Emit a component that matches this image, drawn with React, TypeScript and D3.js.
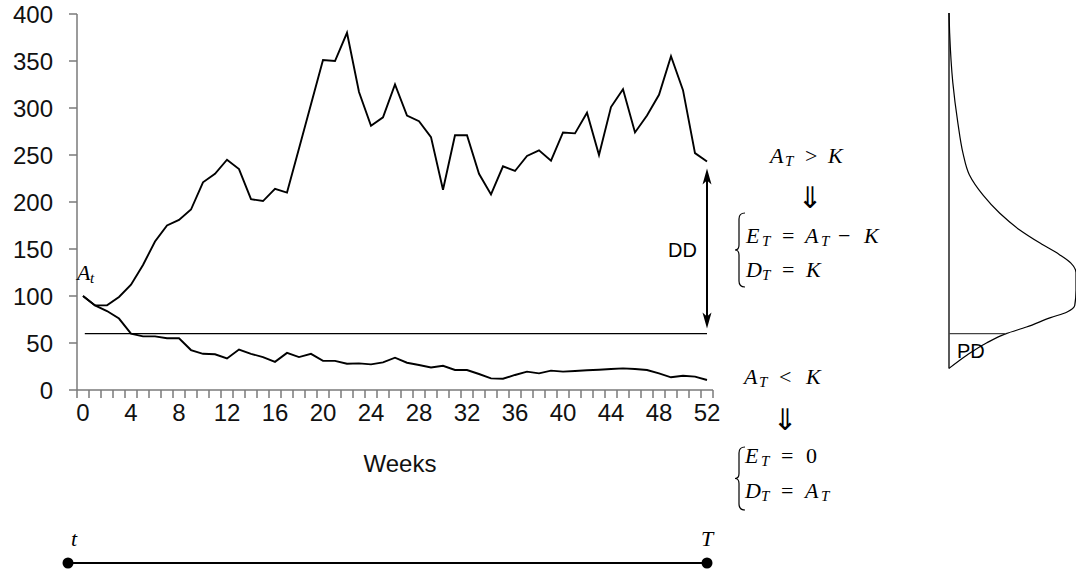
import React from "react";
import * as d3 from "d3";

const W = 1076;
const H = 573;

// asset value paths, one value per week (0..52)
const upperPath = [
  100, 90, 90, 99, 112, 133, 158, 175, 181, 192, 221, 230, 245, 235, 203, 201,
  214, 210, 257, 304, 351, 350, 380, 317, 281, 290, 325, 292, 286, 269, 213,
  271, 271, 230, 208, 238, 233, 249, 255, 244, 274, 273, 295, 250, 301, 320,
  274, 292, 314, 355, 319, 252, 243,
];
const lowerPath = [
  100, 90, 84, 76, 60, 57, 57, 55, 55, 42.5, 38.5, 38, 33.5, 43, 38.5, 35, 30,
  39.5, 35, 38.5, 31, 31, 28, 28.3, 27.3, 29.4, 34.4, 29, 26.6, 24, 25.8, 21.3,
  21.3, 17, 12.4, 12, 16, 19.5, 17.7, 20.6, 19.5, 20.2, 21, 21.6, 22.3, 23,
  22.3, 21.3, 17.7, 13.5, 15.2, 14.2, 10.6,
];
const K = 60;
const xTickLabels = [0, 4, 8, 12, 16, 20, 24, 28, 32, 36, 40, 44, 48, 52];
const yTickLabels = [0, 50, 100, 150, 200, 250, 300, 350, 400];

// terminal distribution: [asset value, relative density]
const densityPts: [number, number][] = [
  [401, 0], [380, 0.005], [327, 0.03], [284, 0.07], [252, 0.11], [229, 0.16],
  [207, 0.27], [188, 0.4], [170, 0.56], [156, 0.72], [144, 0.87], [135, 0.96],
  [125, 1.0], [106, 1.0], [90, 0.99], [83, 0.93], [77, 0.8], [67, 0.61],
  [60, 0.45], [50, 0.295], [37, 0.14], [23, 0],
];

const SANS = "'Liberation Sans', Arial, Helvetica, sans-serif";
const SERIF = "'Liberation Serif', 'Times New Roman', serif";

type Piece = { s: string; x: number; it?: boolean; sub?: boolean };

const MathRow = ({ y, pieces }: { y: number; pieces: Piece[] }) => (
  <g fontFamily={SERIF}>
    {pieces.map((p, i) => (
      <text
        key={i}
        x={p.x}
        y={p.sub ? y + 3 : y}
        fontSize={p.sub ? 15 : 22}
        fontStyle={p.it ? "italic" : "normal"}
      >
        {p.s}
      </text>
    ))}
  </g>
);

const brace = (x: number, top: number, bottom: number) => {
  const mid = (top + bottom) / 2;
  const s = x + 4;
  return `M${x + 10},${top} Q${s},${top} ${s},${top + 6} L${s},${mid - 5} Q${s},${mid} ${x},${mid} Q${s},${mid} ${s},${mid + 5} L${s},${bottom - 6} Q${s},${bottom} ${x + 10},${bottom}`;
};

const arrowHead = (x: number, y: number, dir: 1 | -1) =>
  `M${x},${y} L${x - 4.5},${y + dir * 16} L${x},${y + dir * 12} L${x + 4.5},${y + dir * 16} Z`;

const Implies = ({ x, y }: { x: number; y: number }) => (
  <text
    x={x}
    y={y}
    fontFamily="'DejaVu Sans', sans-serif"
    fontSize={30}
    textAnchor="middle"
    fill="#000"
  >
    ⇓
  </text>
);

export default function App() {
  const x = d3.scaleLinear().domain([0, 52]).range([83, 707]);
  const y = d3.scaleLinear().domain([0, 400]).range([390, 14]);
  const dens = d3.scaleLinear().domain([0, 1]).range([949, 1076]);

  const line = d3
    .line<number>()
    .x((_, i) => x(i))
    .y((d) => y(d));

  const densLine = d3
    .line<[number, number]>()
    .x((d) => dens(d[1]))
    .y((d) => y(d[0]))
    .curve(d3.curveMonotoneY);

  const xEnd = x(52);
  const yTop = y(upperPath[upperPath.length - 1]);
  const yK = y(K);
  const kDens = densityPts.find((d) => d[0] === K)![1];

  return (
    <svg
      width={W}
      height={H}
      style={{ position: "absolute", left: 0, top: 0, background: "#fff" }}
    >
      {/* axes */}
      <g stroke="#7a7a7a" strokeWidth={1.5} fill="none">
        <line x1={x(-0.5)} x2={x(-0.5)} y1={y(400)} y2={y(0)} />
        <line x1={x(-0.5)} x2={x(52.5)} y1={y(0)} y2={y(0)} />
        {yTickLabels.map((v) => (
          <line key={v} x1={x(-0.5) - 8} x2={x(-0.5)} y1={y(v)} y2={y(v)} />
        ))}
        {d3.range(0, 54).map((k) => (
          <line key={k} x1={x(k - 0.5)} x2={x(k - 0.5)} y1={y(0)} y2={y(0) + 8} />
        ))}
      </g>
      <g fontFamily={SANS} fontSize={24} fill="#111">
        {yTickLabels.map((v) => (
          <text key={v} x={53} y={y(v)} dy="0.36em" textAnchor="end">
            {v}
          </text>
        ))}
        {xTickLabels.map((w) => (
          <text key={w} x={x(w)} y={421} textAnchor="middle">
            {w}
          </text>
        ))}
        <text x={400} y={472} textAnchor="middle">
          Weeks
        </text>
      </g>

      {/* paths */}
      <g fill="none" stroke="#000" strokeWidth={1.9} strokeLinejoin="miter">
        <path d={line(upperPath)!} />
        <path d={line(lowerPath)!} />
      </g>
      <line x1={x(0.15)} x2={xEnd} y1={yK} y2={yK} stroke="#000" strokeWidth={1.3} />

      {/* DD arrow */}
      <line x1={xEnd} x2={xEnd} y1={yTop + 12} y2={yK - 10} stroke="#000" strokeWidth={2} />
      <path d={arrowHead(xEnd, yTop + 7, 1)} fill="#000" />
      <path d={arrowHead(xEnd, yK - 5, -1)} fill="#000" />
      <text x={697} y={257} fontFamily={SANS} fontSize={20} textAnchor="end">
        DD
      </text>

      {/* A_t label */}
      <MathRow
        y={280}
        pieces={[
          { s: "A", x: 77, it: true },
          { s: "t", x: 90, it: true, sub: true },
        ]}
      />

      {/* upper case */}
      <MathRow
        y={163}
        pieces={[
          { s: "A", x: 770, it: true },
          { s: "T", x: 785, it: true, sub: true },
          { s: ">", x: 805 },
          { s: "K", x: 828, it: true },
        ]}
      />
      <Implies x={810} y={208} />
      <path d={brace(735, 213, 287)} fill="none" stroke="#000" strokeWidth={1.2} />
      <MathRow
        y={243}
        pieces={[
          { s: "E", x: 746, it: true },
          { s: "T", x: 762, it: true, sub: true },
          { s: "=", x: 782 },
          { s: "A", x: 805, it: true },
          { s: "T", x: 821, it: true, sub: true },
          { s: "−", x: 838 },
          { s: "K", x: 864, it: true },
        ]}
      />
      <MathRow
        y={277}
        pieces={[
          { s: "D", x: 746, it: true },
          { s: "T", x: 762, it: true, sub: true },
          { s: "=", x: 782 },
          { s: "K", x: 806, it: true },
        ]}
      />

      {/* lower case */}
      <MathRow
        y={384}
        pieces={[
          { s: "A", x: 744, it: true },
          { s: "T", x: 759, it: true, sub: true },
          { s: "<", x: 779 },
          { s: "K", x: 806, it: true },
        ]}
      />
      <Implies x={785} y={430} />
      <path d={brace(735, 447, 510)} fill="none" stroke="#000" strokeWidth={1.2} />
      <MathRow
        y={463}
        pieces={[
          { s: "E", x: 745, it: true },
          { s: "T", x: 761, it: true, sub: true },
          { s: "=", x: 781 },
          { s: "0", x: 806 },
        ]}
      />
      <MathRow
        y={498}
        pieces={[
          { s: "D", x: 745, it: true },
          { s: "T", x: 761, it: true, sub: true },
          { s: "=", x: 781 },
          { s: "A", x: 805, it: true },
          { s: "T", x: 821, it: true, sub: true },
        ]}
      />

      {/* terminal distribution */}
      <line
        x1={dens(0)}
        x2={dens(0)}
        y1={y(densityPts[0][0])}
        y2={y(densityPts[densityPts.length - 1][0])}
        stroke="#000"
        strokeWidth={1.3}
      />
      <path d={densLine(densityPts)!} fill="none" stroke="#000" strokeWidth={1.2} />
      <line x1={dens(0)} x2={dens(kDens)} y1={yK} y2={yK} stroke="#444" strokeWidth={1.2} />
      <text x={957} y={358} fontFamily={SANS} fontSize={20}>
        PD
      </text>

      {/* time line t -> T */}
      <line x1={x(-1.25)} x2={xEnd} y1={563} y2={563} stroke="#000" strokeWidth={2} />
      <circle cx={x(-1.25)} cy={563} r={5.5} fill="#000" />
      <circle cx={xEnd} cy={563} r={5.5} fill="#000" />
      <text x={x(-1.25) + 3} y={546} fontFamily={SERIF} fontSize={22} fontStyle="italic">
        t
      </text>
      <text x={xEnd} y={546} fontFamily={SERIF} fontSize={22} fontStyle="italic" textAnchor="middle">
        T
      </text>
    </svg>
  );
}
